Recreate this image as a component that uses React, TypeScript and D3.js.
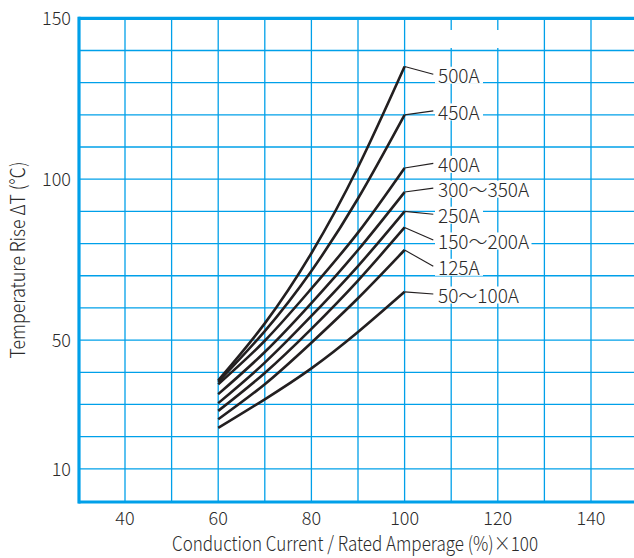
import React from "react";
import * as d3 from "d3";

// ---- data ----
const currentPct = [60, 70, 80, 90, 100];
const seriesNames = ["500A", "450A", "400A", "300～350A", "250A", "150～200A", "125A", "50～100A"];
const rise500 = [37.5, 55.2, 77, 103.7, 135];
const rise450 = [37, 52.8, 71.5, 94, 120];
const rise400 = [36.3, 49.8, 66, 83.4, 103.5];
const rise300_350 = [33.2, 46.3, 61.5, 78, 96];
const rise250 = [30.4, 43, 57.5, 73, 90];
const rise150_200 = [28, 39.8, 53.5, 68.5, 85];
const rise125 = [25.4, 36.3, 49.2, 63, 78];
const rise50_100 = [22.7, 31.6, 41.2, 52.5, 65];
const seriesValues = [rise500, rise450, rise400, rise300_350, rise250, rise150_200, rise125, rise50_100];
// label anchor (in data units of the y axis) for the right-hand annotations
const labelAt = [132, 120.6, 104.3, 96.6, 88.5, 80.5, 72.3, 63.7];
const xTicks = [40, 60, 80, 100, 120, 140];
const yTicks = [10, 50, 100, 150];
const xTitle = "Conduction Current / Rated Amperage (%)×100";
const yTitle = "Temperature Rise ΔT (℃)";

const W = 634;
const H = 558;
const BLUE = "#00a0e9";
const FONT = "'Noto Sans CJK JP', 'Noto Sans', sans-serif";
const INK = "#2a2a2a";

export default function App() {
  const x = d3.scaleLinear().domain([30, 150]).range([78.4, 637.6]);
  const y = d3.scaleLinear().domain([0, 150]).range([501, 18.3]);
  const line = d3
    .line<number>()
    .x((_, i) => x(currentPct[i]))
    .y((d) => y(d))
    .curve(d3.curveNatural);

  const gridX = d3.range(40, 150, 10);
  const gridY = d3.range(10, 150, 10);

  const textWidth = (s: string) =>
    Array.from(s).reduce((a, c) => a + (c === "～" ? 18.5 : c === "A" ? 12 : 10), 0);

  return (
    <svg
      width={W}
      height={H}
      style={{ position: "absolute", left: 0, top: 0, background: "#fff" }}
      fontFamily={FONT}
      fontWeight={300}
    >
      <rect x={0} y={0} width={W} height={H} fill="#fff" />
      {/* grid */}
      {gridX.map((v) => (
        <line key={"gx" + v} x1={x(v)} x2={x(v)} y1={y(150)} y2={y(0)} stroke={BLUE} strokeWidth={1.3} />
      ))}
      {gridY.map((v) => (
        <line key={"gy" + v} x1={x(30)} x2={W} y1={y(v)} y2={y(v)} stroke={BLUE} strokeWidth={1.3} />
      ))}
      {/* empty box near top */}
      <rect x={441} y={30} width={63} height={18} fill="#fff" />
      {/* frame */}
      <line x1={x(30)} x2={W} y1={y(150)} y2={y(150)} stroke={BLUE} strokeWidth={3.2} />
      <line x1={x(30)} x2={W} y1={y(0) + 1} y2={y(0) + 1} stroke={BLUE} strokeWidth={3.2} />
      <line x1={x(30) + 0.6} x2={x(30) + 0.6} y1={y(150) - 1.6} y2={y(0) + 2.6} stroke={BLUE} strokeWidth={3.2} />

      {/* curves */}
      {seriesValues.map((vals, i) => (
        <path key={"c" + i} d={line(vals) || ""} fill="none" stroke="#231f20" strokeWidth={2.6} />
      ))}

      {/* annotations */}
      {seriesNames.map((name, i) => {
        const vals = seriesValues[i];
        const x0 = x(currentPct[currentPct.length - 1]);
        const y0 = y(vals[vals.length - 1]);
        const cy = y(labelAt[i]);
        const tw = textWidth(name);
        return (
          <g key={"l" + i}>
            <line x1={x0} y1={y0} x2={433.3} y2={cy - 2} stroke="#231f20" strokeWidth={1.1} />
            <rect x={435} y={cy - 9.5} width={tw + 6} height={17} fill="#fff" />
            <text x={438} y={cy + 6.9} fontSize={19} fill={INK}>
              {name}
            </text>
          </g>
        );
      })}

      {/* axis tick labels */}
      {xTicks.map((v) => (
        <text key={"xt" + v} x={x(v)} y={525} textAnchor="middle" fontSize={18} fill={INK}>
          {v}
        </text>
      ))}
      {yTicks.map((v) => (
        <text key={"yt" + v} x={71} y={y(v) + 6.7} textAnchor="end" fontSize={18} fill={INK}>
          {v}
        </text>
      ))}

      {/* axis titles */}
      <text
        x={355}
        y={551}
        textAnchor="middle"
        fontSize={20}
        fill={INK}
        textLength={366}
        lengthAdjust="spacingAndGlyphs"
      >
        {xTitle}
      </text>
      <text
        transform={`translate(25, 260) rotate(-90)`}
        textAnchor="middle"
        fontSize={20}
        fill={INK}
        textLength={197}
        lengthAdjust="spacingAndGlyphs"
      >
        {yTitle}
      </text>
    </svg>
  );
}
